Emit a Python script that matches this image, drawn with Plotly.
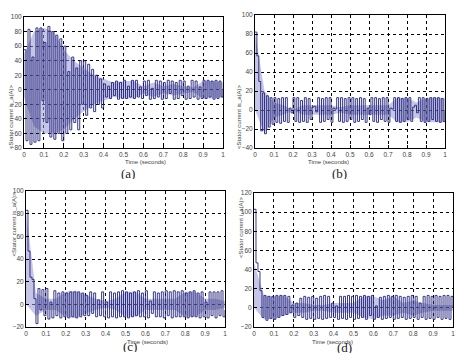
import numpy as np
import plotly.graph_objects as go

# ---------------- data ----------------
t_fine = np.round(np.arange(101) * 0.01, 2)
t_band = np.round(np.arange(21) * 0.05, 2)

a_vals = [55, -70, 83, -75, 45, -72, 85, -70, 85, -15,
          65, -45, 87, -65, 80, -68, 75, -60, 70, -70,
          60, -60, 25, -55, 45, -45, 30, -55, 40, -20,
          40, -35, 35, -25, 28, -30, 20, -20, 15, -25,
          8, -10, 5, -12, 10, -8, 12, -13, 10, -12,
          13, -12, 5, -10, 13, -12, 13, -10, 4, -12,
          12, -8, 13, -13, 2, -12, 13, -10, 12, -13,
          10, -12, 13, -5, 12, -13, 10, -12, 13, -8,
          12, -13, 5, -12, 13, -10, 12, -13, 4, -12,
          13, -12, 13, -10, 12, -13, 13, -12, 12, -10, 0]
a_up = [50, 80, 85, 80, 55, 40, 30, 20, 15, 10, 12, 12, 5, 10, 5, 8, 5, 3, 12, 12, 10]
a_lo = [-10, -50, -60, -60, -55, -40, -30, -20, -15, -10, -12, -12, -5, -10, -5, -8, -5, -3, -12, -12, -10]

b_vals = [82, 57, 30, -22, 18, -25, 15, -18, 13, -15,
          13, -13, 12, -14, 13, -12, 13, -13, 2, -3,
          13, -12, 13, -13, 10, -12, 13, -13, 12, -10,
          3, 4, -2, 13, -13, 12, -12, 13, -10, 13,
          -13, 2, 1, 13, -12, 13, -13, 12, -12, 13,
          -10, 13, -13, 12, -12, 13, -10, 12, -13, 2,
          -5, 13, -12, 13, -13, 12, -10, 13, -12, 13,
          -13, 2, 1, 13, -12, 13, -13, 12, -12, 13,
          -10, 13, -12, 3, 5, -3, 13, -12, 13, -13,
          12, -12, 13, -10, 13, -12, 13, -13, 12, -12, 0]
b_up = [82, 20, 8, 5, 0, 5, 5, 5, 5, 3, 5, 5, 5, 5, 5, 13, 13, 8, 13, 13, 13]
b_lo = [0, -25, -8, -5, 0, -5, -5, -5, -5, -3, -5, -5, -5, -5, -5, -13, -13, -8, -13, -13, -13]

c_vals = [83, 47, 24, 22, 5, -17, 14, -5, 13, -10,
          14, -13, 2, -12, 12, -10, 10, -12, 11, -11,
          10, -12, 11, -11, 11, -12, 11, -11, 10, -10,
          8, -10, 11, -8, 10, -11, 4, -10, 11, -11,
          2, -12, 11, -11, 10, -12, 11, -11, 12, -11,
          11, -12, 10, -11, 11, -10, 12, -11, 10, -11,
          12, -12, 3, -8, 11, -11, 10, -11, 11, -12,
          12, -10, 11, -12, 12, -11, 11, -11, 12, -11,
          10, -12, 11, -11, 12, -11, 10, -12, 11, -11,
          2, -12, 11, -10, 11, -12, 11, -10, 12, -11, -5]
c_up = [83, 10, 5, 5, 11, 12, 8, 5, 3, 5, 11, 11, 5, 5, 5, 5, 11, 11, 5, 5, 3]
c_lo = [0, -10, -5, -5, -11, -12, -8, -5, -3, -5, -11, -11, -5, -5, -5, -5, -11, -11, -5, -5, -3]

d_vals = [103, 47, 38, 18, -10, 13, -13, 12, -11, 12,
          -12, 13, -10, 13, -8, 13, -7, 12, -5, 3,
          -10, 5, -8, 10, -10, 12, -12, 11, -11, 12,
          -12, 10, -11, 12, -12, 13, -11, 12, -10, 5,
          -10, 2, -12, 12, -11, 12, -12, 13, -10, 12,
          -12, 13, -11, 12, -10, 13, -12, 12, -8, 13,
          -12, 2, -10, 11, -12, 12, -11, 13, -10, 12,
          -12, 13, -11, 12, -10, 11, -12, 12, -11, 13,
          -10, 12, -12, 5, -10, 12, -12, 13, -11, 12,
          -12, 13, -10, 12, -12, 13, -11, 13, -12, 12, 0]
d_up = [47, 13, 12, 13, 5, 5, 3, 3, 5, 5, 5, 12, 12, 8, 12, 5, 8, 5, 3, 3, 3]
d_lo = [0, -12, -12, -8, -5, -5, -3, -3, -5, -5, -5, -10, -12, -8, -8, -5, -8, -5, -3, -3, -3]

x_ticks = [0, 0.1, 0.2, 0.3, 0.4, 0.5, 0.6, 0.7, 0.8, 0.9, 1]
y_ranges = {"a": [-80, 100], "b": [-40, 100], "c": [-20, 100], "d": [-20, 120]}
y_titles = {"a": "<Stator current is_a(A)>", "b": "<Stator current is_a(A)>",
            "c": "<Stator current is_a(A)>", "d": "<Stator current i_a(A)>"}
panel_labels = {"a": "(a)", "b": "(b)", "c": "(c)", "d": "(d)"}

# ---------------- layout geometry ----------------
W, H = 474, 362
def px_x(p): return p / W
def px_y(p): return 1 - p / H

panels = {
    "a": dict(x=(24, 223), y=(17, 148), ax="", vals=a_vals, up=a_up, lo=a_lo,
              xt=157, lab=(120, 173), yt=6),
    "b": dict(x=(255, 445), y=(15, 148), ax="2", vals=b_vals, up=b_up, lo=b_lo,
              xt=157, lab=(348, 173), yt=239),
    "c": dict(x=(26, 225), y=(191, 327), ax="3", vals=c_vals, up=c_up, lo=c_lo,
              xt=337, lab=(122, 353), yt=8),
    "d": dict(x=(254, 453), y=(193, 327), ax="4", vals=d_vals, up=d_up, lo=d_lo,
              xt=337, lab=(353, 354), yt=241),
}

dark = "#22227a"
light = "rgba(150,150,210,0.55)"
tickfont = dict(family="Liberation Sans, Arial", size=6.5, color="#444444")

fig = go.Figure()
annotations = []
for key, p in panels.items():
    xa = "x" + p["ax"]
    ya = "y" + p["ax"]
    fig.add_trace(go.Scatter(x=t_band, y=p["lo"], mode="lines", line=dict(width=0),
                             xaxis=xa, yaxis=ya, showlegend=False, hoverinfo="skip"))
    fig.add_trace(go.Scatter(x=t_band, y=p["up"], mode="lines", line=dict(width=0),
                             fill="tonexty", fillcolor=light,
                             xaxis=xa, yaxis=ya, showlegend=False, hoverinfo="skip"))
    fig.add_trace(go.Scatter(x=t_fine, y=p["vals"], mode="lines",
                             line=dict(color=dark, width=0.9, shape="hv"),
                             xaxis=xa, yaxis=ya, showlegend=False))
    common = dict(showgrid=True, gridcolor="black", griddash="dot", gridwidth=1,
                  zeroline=False, showline=True, mirror=True, linecolor="black",
                  linewidth=1, ticks="inside", ticklen=3, tickcolor="black",
                  tickfont=tickfont, automargin=False)
    fig.update_layout(**{
        "xaxis" + p["ax"]: dict(domain=[px_x(p["x"][0]), px_x(p["x"][1])],
                                range=[0, 1], tickvals=x_ticks, anchor=ya, **common),
        "yaxis" + p["ax"]: dict(domain=[px_y(p["y"][1]), px_y(p["y"][0])],
                                range=y_ranges[key], dtick=20, anchor=xa, **common),
    })
    cx = px_x((p["x"][0] + p["x"][1]) / 2)
    annotations.append(dict(x=cx, y=px_y(p["xt"]), xref="paper", yref="paper",
                            yanchor="top", text="Time (seconds)", showarrow=False,
                            height=8, borderpad=0,
                            font=dict(family="Liberation Sans, Arial", size=6, color="#444444")))
    annotations.append(dict(x=px_x(p["lab"][0]), y=px_y(p["lab"][1]), xref="paper", yref="paper",
                            text=panel_labels[key], showarrow=False, height=12, borderpad=0,
                            font=dict(family="Liberation Serif, Times New Roman", size=13, color="#222222")))
    annotations.append(dict(x=px_x(p["yt"]), y=px_y((p["y"][0] + p["y"][1]) / 2),
                            xref="paper", yref="paper", text=y_titles[key], textangle=-90,
                            showarrow=False,
                            font=dict(family="Liberation Sans, Arial", size=6, color="#444444")))

fig.update_layout(width=W, height=H, margin=dict(l=0, r=0, t=0, b=0, autoexpand=False),
                  paper_bgcolor="white", plot_bgcolor="white",
                  annotations=annotations)
fig.write_html("out.html", config={"displayModeBar": False},
               post_script="document.body.style.margin='0';document.body.style.padding='0';")
